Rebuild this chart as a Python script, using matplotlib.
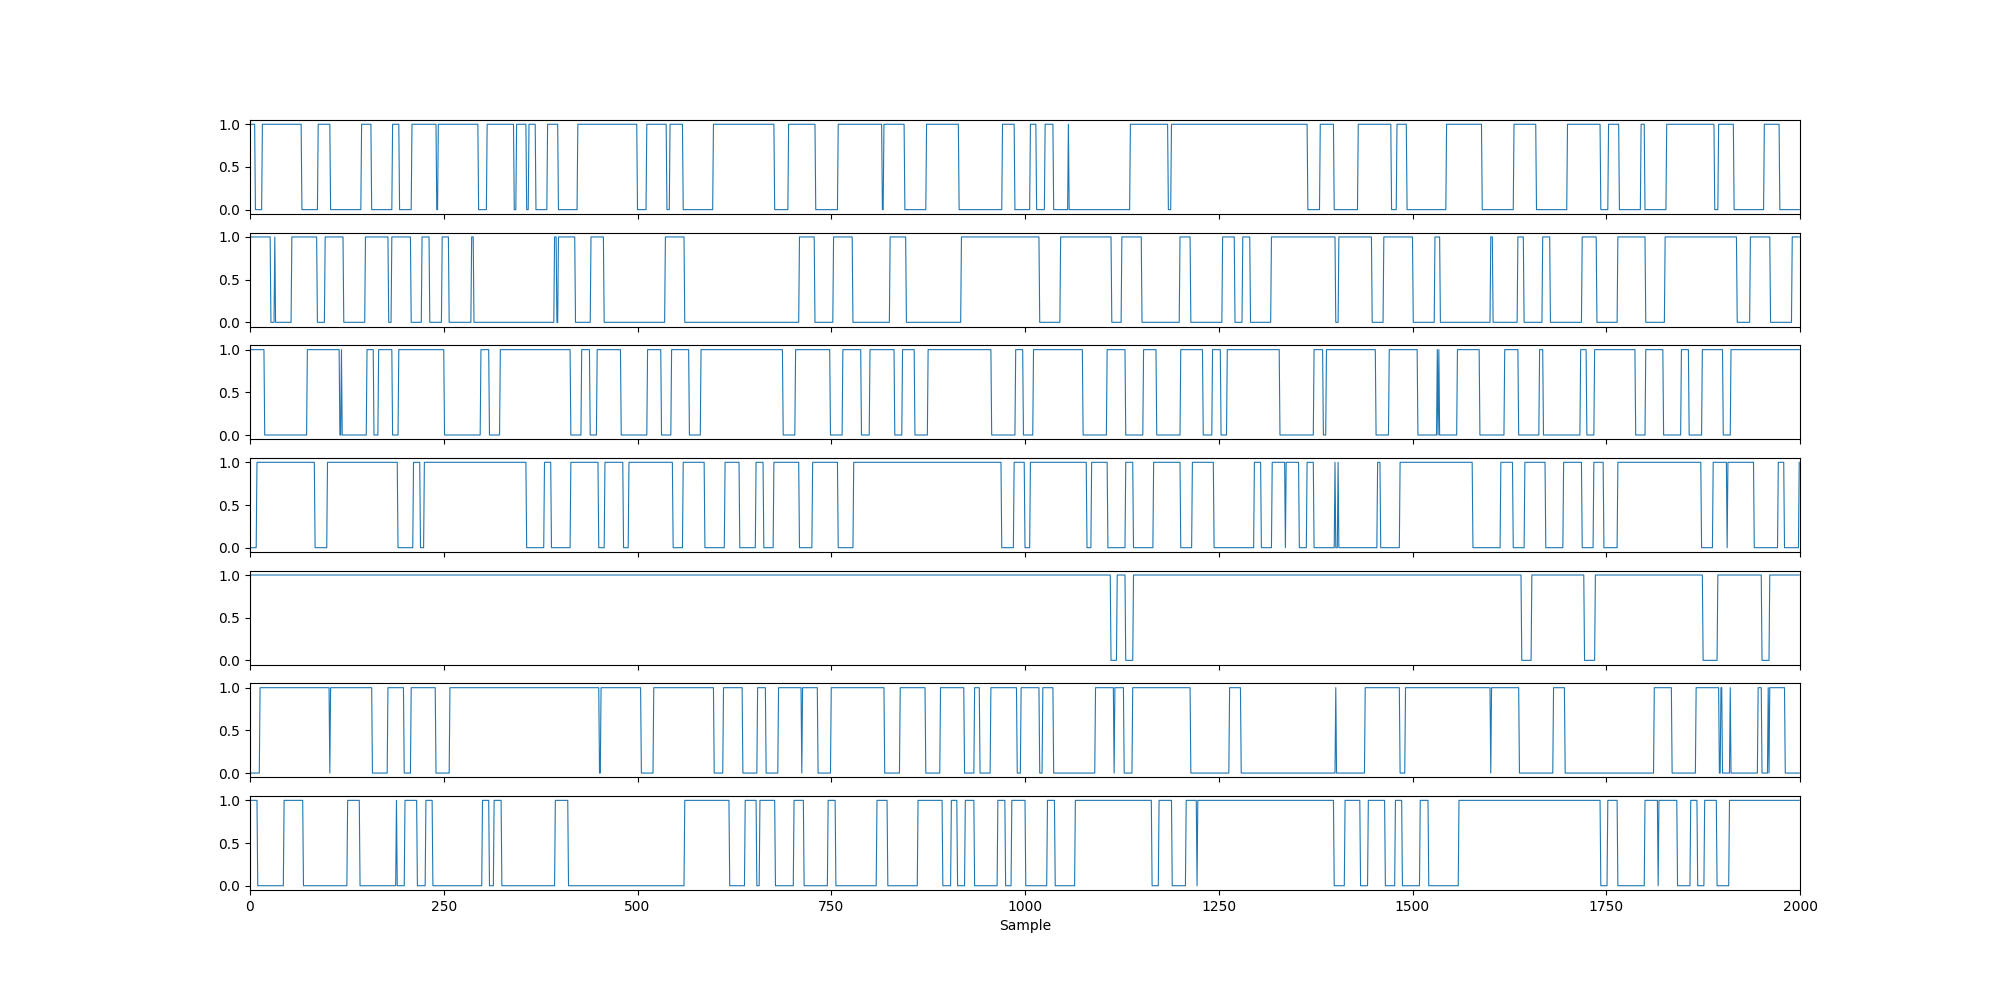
import numpy as np
from matplotlib import pyplot as plt

n_samples = 2000

# each channel: starting level and the sample indices where the level flips
start_levels = [1, 1, 1, 0, 1, 0, 1]

flips_1 = [7, 16, 67, 88, 104, 144, 157, 184, 193, 209, 241, 243, 295, 306, 341, 344,
           357, 360, 369, 384, 398, 423, 500, 512, 538, 542, 559, 598, 677, 695, 730,
           759, 816, 818, 845, 873, 915, 971, 987, 1007, 1015, 1026, 1037, 1056, 1057,
           1136, 1185, 1189, 1365, 1381, 1399, 1430, 1473, 1480, 1493, 1544, 1590, 1631,
           1660, 1700, 1743, 1753, 1767, 1795, 1800, 1828, 1890, 1895, 1915, 1954, 1974]
flips_2 = [27, 32, 33, 54, 87, 97, 121, 149, 179, 183, 208, 222, 232, 248, 257, 286, 289,
           393, 396, 398, 420, 440, 457, 536, 561, 709, 729, 753, 778, 826, 847, 918,
           1019, 1046, 1112, 1125, 1151, 1200, 1214, 1255, 1271, 1281, 1291, 1318, 1401,
           1405, 1448, 1463, 1501, 1529, 1536, 1601, 1604, 1636, 1644, 1668, 1678, 1719,
           1738, 1765, 1801, 1826, 1919, 1936, 1962, 1990]
flips_3 = [19, 74, 116, 118, 119, 151, 160, 166, 184, 192, 251, 298, 309, 323, 414, 428,
           439, 448, 479, 513, 531, 544, 567, 582, 688, 704, 749, 765, 789, 800, 832, 842,
           858, 875, 957, 988, 998, 1011, 1075, 1106, 1130, 1153, 1170, 1201, 1230, 1242,
           1253, 1261, 1329, 1373, 1385, 1389, 1453, 1470, 1507, 1532, 1533, 1534, 1535,
           1558, 1587, 1619, 1637, 1664, 1669, 1717, 1725, 1735, 1788, 1801, 1824, 1847,
           1857, 1874, 1901, 1911]
flips_4 = [9, 84, 100, 191, 211, 220, 225, 357, 380, 389, 414, 450, 458, 482, 489, 546,
           559, 587, 613, 632, 653, 663, 676, 709, 726, 759, 779, 970, 986, 1000, 1007,
           1080, 1086, 1107, 1130, 1140, 1166, 1201, 1216, 1244, 1296, 1305, 1319, 1336,
           1337, 1354, 1364, 1373, 1400, 1401, 1404, 1405, 1455, 1459, 1484, 1578, 1614,
           1630, 1645, 1672, 1695, 1719, 1734, 1747, 1765, 1873, 1888, 1906, 1907, 1941,
           1972, 1980, 1999]
flips_5 = [1111, 1119, 1130, 1140, 1641, 1654, 1722, 1736, 1875, 1894, 1951, 1961]
flips_6 = [13, 103, 104, 158, 178, 199, 208, 240, 258, 451, 453, 505, 521, 599, 611, 636,
           655, 666, 682, 712, 713, 733, 750, 819, 839, 872, 891, 922, 935, 942, 956, 990,
           995, 1019, 1023, 1037, 1091, 1115, 1116, 1128, 1139, 1214, 1264, 1279, 1401,
           1402, 1439, 1484, 1491, 1601, 1602, 1638, 1682, 1697, 1812, 1835, 1866, 1896,
           1898, 1900, 1910, 1911, 1946, 1951, 1959, 1960, 1961, 1981]
flips_7 = [10, 44, 69, 126, 142, 189, 190, 200, 216, 227, 236, 300, 309, 315, 325, 394,
           411, 561, 619, 639, 654, 658, 678, 702, 715, 746, 756, 809, 823, 862, 894, 905,
           913, 923, 935, 965, 975, 983, 1001, 1029, 1039, 1065, 1164, 1173, 1190, 1208,
           1222, 1223, 1399, 1413, 1433, 1443, 1465, 1478, 1487, 1510, 1521, 1560, 1743,
           1752, 1765, 1800, 1817, 1818, 1842, 1859, 1868, 1877, 1893, 1909]

all_flips = [flips_1, flips_2, flips_3, flips_4, flips_5, flips_6, flips_7]


def expand(start, flips, n):
    y = np.full(n, start)
    for t in flips:
        y[t:] = 1 - y[t:]
    return y


def main():
    x = np.arange(n_samples)
    fig, axes = plt.subplots(len(all_flips), 1, figsize=(20, 10), dpi=100, sharex=True)
    for ax, start, flips in zip(axes, start_levels, all_flips):
        ax.plot(x, expand(start, flips, n_samples), c="#1f77b4", linewidth=0.8)
        ax.set_yticks([0.0, 0.5, 1.0])
    axes[-1].set_xlim(0, 2000)
    axes[-1].set_xlabel("Sample")
    fig.savefig("out.png")


if __name__ == "__main__":
    main()
